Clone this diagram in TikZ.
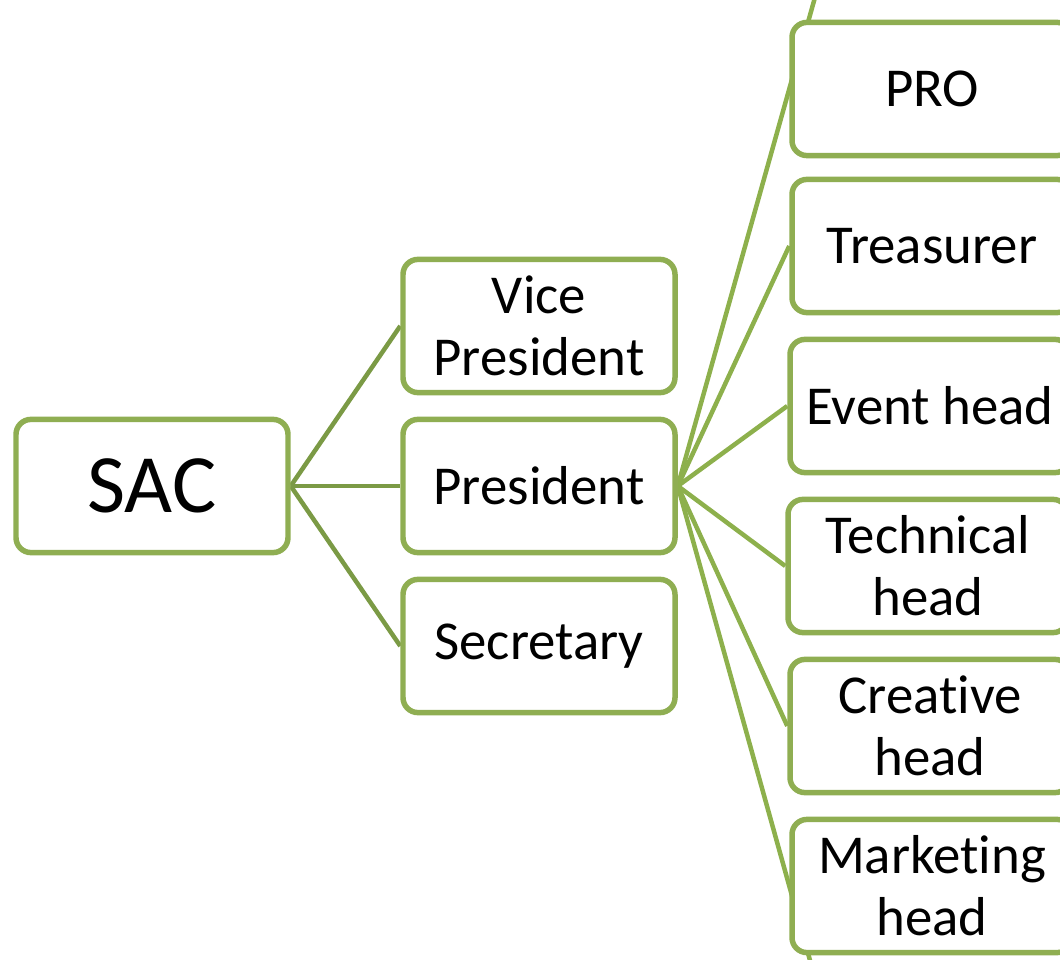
\documentclass[tikz,border=0pt]{standalone}
\usepackage{fontspec}
\setmainfont{Carlito}[Ligatures=NoCommon]
\usepackage{tikz}
\usetikzlibrary{backgrounds,calc}
\definecolor{boxgreen}{HTML}{8FAE52}
\definecolor{darkgreen}{HTML}{7B9A45}
\definecolor{lightgreen}{HTML}{8DB04C}
\tikzset{
  rolebox/.style={draw=boxgreen, line width=3.9pt, fill=white,
    rounded corners=0.375cm, minimum width=6.8cm, minimum height=3.33cm,
    align=center, inner sep=0cm, font=\fontsize{39}{44}\selectfont},
  headline/.style={draw=darkgreen, line width=3.2pt},
  memberline/.style={draw=lightgreen, line width=3.2pt}
}
\begin{document}
\begin{tikzpicture}
\useasboundingbox (0,0) rectangle (26.5,23.975);

\draw (3.8, 11.825) node[rolebox, font=\fontsize{59}{70}\selectfont] (sac) {SAC};
\draw (13.475, 15.825) node[rolebox] (vp) {Vice\\President};
\draw (13.475, 11.825) node[rolebox] (pres) {President};
\draw (13.475, 7.825) node[rolebox] (sec) {Secretary};

\draw (23.3, 21.75) node[rolebox, minimum width=7cm] (pro) {PRO};
\draw (23.3, 17.825) node[rolebox, minimum width=7cm] (treas) {Treasurer};
\draw (23.25, 13.825) node[rolebox, minimum width=7cm] (event) {Event head};
\draw (23.2, 9.825) node[rolebox, minimum width=7cm] (tech) {Technical\\head};
\draw (23.25, 5.825) node[rolebox, minimum width=7cm] (creat) {Creative\\head};
\draw (23.3, 1.825) node[rolebox, minimum width=7cm] (mark) {Marketing\\head};

\begin{scope}[on background layer]
\draw[headline] (sac.east) -- (vp.west);
\draw[headline] (sac.east) -- (pres.west);
\draw[headline] (sac.east) -- (sec.west);
\coordinate (protop) at ($(pres.east)!1.3!(pro.west)$);
\coordinate (markbot) at ($(pres.east)!1.3!(mark.west)$);
\draw[memberline] (pres.east) -- (protop);
\draw[memberline] (pres.east) -- (treas.west);
\draw[memberline] (pres.east) -- (event.west);
\draw[memberline] (pres.east) -- (tech.west);
\draw[memberline] (pres.east) -- (creat.west);
\draw[memberline] (pres.east) -- (markbot);
\end{scope}
\end{tikzpicture}
\end{document}
